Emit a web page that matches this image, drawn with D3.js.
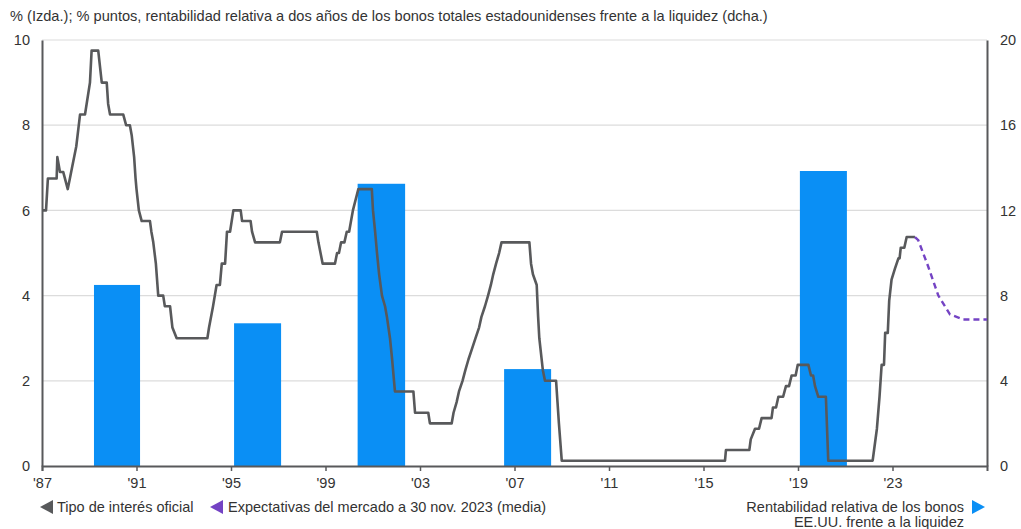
<!DOCTYPE html>
<html lang="es">
<head>
<meta charset="utf-8">
<script src="https://cdn.jsdelivr.net/npm/d3@7"></script>
<style>
  html, body { margin: 0; padding: 0; background: #fff; }
  svg { display: block; font-family: "Liberation Sans", Arial, sans-serif; }
</style>
</head>
<body>
<svg id="chart" width="1021" height="529"></svg>
<script>
// Fed funds target rate (%), left axis: [decimal year, value]
const policyRate = [
  [1987.0, 6.0], [1987.17, 6.0], [1987.25, 6.75], [1987.62, 6.75], [1987.65, 7.25],
  [1987.76, 6.9], [1987.9, 6.9], [1988.09, 6.5], [1988.18, 6.75], [1988.27, 7.0],
  [1988.45, 7.5], [1988.61, 8.25], [1988.82, 8.25], [1988.96, 8.75], [1989.03, 9.0],
  [1989.1, 9.75], [1989.38, 9.75], [1989.53, 9.0], [1989.74, 9.0], [1989.8, 8.5],
  [1989.88, 8.25], [1990.44, 8.25], [1990.56, 8.0], [1990.72, 8.0], [1990.8, 7.75],
  [1990.9, 7.25], [1990.96, 6.75], [1991.0, 6.5], [1991.1, 6.0], [1991.22, 5.75],
  [1991.57, 5.75], [1991.63, 5.5], [1991.71, 5.25], [1991.82, 4.75], [1991.92, 4.0],
  [1992.13, 4.0], [1992.2, 3.75], [1992.42, 3.75], [1992.52, 3.25], [1992.7, 3.0],
  [1994.0, 3.0], [1994.07, 3.25], [1994.24, 3.75], [1994.39, 4.25], [1994.53, 4.25],
  [1994.61, 4.75], [1994.75, 4.75], [1994.83, 5.5], [1994.96, 5.5], [1995.1, 6.0],
  [1995.41, 6.0], [1995.47, 5.75], [1995.83, 5.75], [1995.89, 5.5], [1996.02, 5.25],
  [1997.07, 5.25], [1997.16, 5.5], [1998.63, 5.5], [1998.7, 5.25], [1998.79, 5.0],
  [1998.88, 4.75], [1999.4, 4.75], [1999.49, 5.0], [1999.57, 5.0], [1999.66, 5.25],
  [1999.8, 5.25], [1999.9, 5.5], [2000.0, 5.5], [2000.08, 5.75], [2000.16, 6.0],
  [2000.39, 6.5], [2000.96, 6.5], [2001.01, 6.0], [2001.1, 5.5], [2001.18, 5.0],
  [2001.27, 4.5], [2001.39, 4.0], [2001.52, 3.75], [2001.6, 3.5], [2001.73, 3.0],
  [2001.82, 2.5], [2001.9, 2.0], [2001.94, 1.75], [2002.72, 1.75], [2002.79, 1.25],
  [2003.35, 1.25], [2003.42, 1.0], [2004.34, 1.0], [2004.42, 1.25], [2004.55, 1.5],
  [2004.65, 1.75], [2004.8, 2.0], [2004.92, 2.25], [2005.05, 2.5], [2005.2, 2.75],
  [2005.35, 3.0], [2005.5, 3.25], [2005.6, 3.5], [2005.75, 3.75], [2005.88, 4.0],
  [2006.0, 4.25], [2006.1, 4.5], [2006.22, 4.75], [2006.35, 5.0], [2006.45, 5.25],
  [2007.63, 5.25], [2007.7, 4.75], [2007.78, 4.5], [2007.94, 4.25], [2008.0, 3.5],
  [2008.05, 3.0], [2008.2, 2.25], [2008.29, 2.0], [2008.76, 2.0], [2008.82, 1.5],
  [2008.88, 1.0], [2009.0, 0.125], [2015.91, 0.125], [2015.95, 0.375], [2016.94, 0.375],
  [2017.0, 0.625], [2017.18, 0.875], [2017.35, 0.875], [2017.46, 1.125], [2017.88, 1.125],
  [2017.94, 1.375], [2018.07, 1.375], [2018.17, 1.625], [2018.37, 1.625], [2018.49, 1.875],
  [2018.62, 1.875], [2018.73, 2.125], [2018.9, 2.125], [2018.99, 2.375], [2019.44, 2.375],
  [2019.55, 2.125], [2019.64, 2.125], [2019.72, 1.875], [2019.86, 1.625], [2020.18, 1.625],
  [2020.28, 0.125], [2022.16, 0.125], [2022.22, 0.375], [2022.34, 0.875], [2022.45, 1.625],
  [2022.54, 2.375], [2022.64, 2.375], [2022.69, 3.125], [2022.8, 3.125], [2022.86, 3.875],
  [2022.96, 4.375], [2023.1, 4.625], [2023.25, 4.875], [2023.3, 4.875], [2023.35, 5.125],
  [2023.5, 5.125], [2023.6, 5.375], [2023.95, 5.375]
];

// Market-implied path as of 30 Nov 2023 (%), left axis
const marketPath = [
  [2023.95, 5.375], [2024.09, 5.3], [2024.5, 4.7], [2024.94, 4.0],
  [2025.43, 3.56], [2026.0, 3.44], [2027.0, 3.44]
];

// Two-year relative return of US aggregate bonds vs cash (pp), right axis
const barStart = [1989.2, 1995.13, 2000.36, 2006.56, 2019.08];
const barEnd   = [1991.15, 1997.12, 2002.37, 2008.55, 2021.07];
const barValue = [8.5, 6.7, 13.25, 4.55, 13.85];

const xTickYears  = [1987, 1991, 1995, 1999, 2003, 2007, 2011, 2015, 2019, 2023];
const leftTicks   = [0, 2, 4, 6, 8, 10];
const rightTicks  = [0, 4, 8, 12, 16, 20];

const titleText = "% (Izda.); % puntos, rentabilidad relativa a dos años de los bonos totales estadounidenses frente a la liquidez (dcha.)";
const legendRate = "Tipo de interés oficial";
const legendPath = "Expectativas del mercado a 30 nov. 2023 (media)";
const legendBars = ["Rentabilidad relativa de los bonos", "EE.UU. frente a la liquidez"];

const colRate = "#58595b";
const colPath = "#7443c4";
const colBar  = "#0a8ff5";
const colText = "#333333";
const fontSize = 14.5;

const svg = d3.select("#chart");
const plot = { left: 42, right: 987, top: 40, bottom: 466 };

const x = d3.scaleLinear().domain([1987, 2027]).range([plot.left, plot.right]);
const yL = d3.scaleLinear().domain([0, 10]).range([plot.bottom, plot.top]);
const yR = d3.scaleLinear().domain([0, 20]).range([plot.bottom, plot.top]);

// title
svg.append("text")
  .attr("x", 10).attr("y", 21)
  .attr("font-size", 14.6).attr("fill", colText)
  .text(titleText);

// horizontal gridlines
svg.append("g").selectAll("line")
  .data(leftTicks.filter(d => d > 0))
  .join("line")
  .attr("x1", plot.left).attr("x2", plot.right)
  .attr("y1", d => yL(d)).attr("y2", d => yL(d))
  .attr("stroke", "#dcdcdc").attr("stroke-width", 1.2);

// bars
svg.append("g").selectAll("rect")
  .data(barValue.map((v, i) => ({ s: barStart[i], e: barEnd[i], v })))
  .join("rect")
  .attr("x", d => x(d.s))
  .attr("width", d => x(d.e) - x(d.s))
  .attr("y", d => yR(d.v))
  .attr("height", d => yR(0) - yR(d.v))
  .attr("fill", colBar);

function styleAxisText(g) {
  g.selectAll("text").attr("font-size", fontSize).attr("fill", colText)
    .attr("font-family", "Liberation Sans, Arial, sans-serif");
}

// left axis
const axL = svg.append("g")
  .attr("transform", `translate(${plot.left},0)`)
  .call(d3.axisLeft(yL).tickValues(leftTicks).tickSize(0).tickPadding(12).tickFormat(d3.format("d")));
axL.select(".domain").attr("stroke", colRate).attr("stroke-width", 2);
styleAxisText(axL);

// right axis
const axR = svg.append("g")
  .attr("transform", `translate(${plot.right},0)`)
  .call(d3.axisRight(yR).tickValues(rightTicks).tickSize(0).tickPadding(13).tickFormat(d3.format("d")));
axR.select(".domain").attr("stroke", colRate).attr("stroke-width", 2);
styleAxisText(axR);

// bottom axis
const axB = svg.append("g")
  .attr("transform", `translate(0,${plot.bottom})`)
  .call(d3.axisBottom(x).tickValues(xTickYears).tickSize(5).tickPadding(7)
    .tickFormat(d => "'" + String(d).slice(2)));
axB.select(".domain").attr("stroke", colRate).attr("stroke-width", 2);
axB.selectAll(".tick line").attr("stroke", colRate).attr("stroke-width", 1.5);
styleAxisText(axB);

// policy rate line
const line = d3.line().x(d => x(d[0])).y(d => yL(d[1]));
svg.append("path")
  .datum(policyRate)
  .attr("d", line)
  .attr("fill", "none")
  .attr("stroke", colRate)
  .attr("stroke-width", 2.6)
  .attr("stroke-linejoin", "round");

// market expectations
svg.append("path")
  .datum(marketPath)
  .attr("d", line)
  .attr("fill", "none")
  .attr("stroke", colPath)
  .attr("stroke-width", 2.4)
  .attr("stroke-dasharray", "6,4");

// legend
const lg = svg.append("g").attr("font-size", fontSize).attr("fill", colText);
const ly = 512;
lg.append("path").attr("d", `M40,${ly - 5} L53,${ly - 12} L53,${ly + 2} Z`).attr("fill", colRate);
lg.append("text").attr("x", 57).attr("y", ly).text(legendRate);
lg.append("path").attr("d", `M210,${ly - 5} L223,${ly - 12} L223,${ly + 2} Z`).attr("fill", colPath);
lg.append("text").attr("x", 228).attr("y", ly).text(legendPath);
lg.append("path").attr("d", `M985,${ly - 5} L972,${ly - 12} L972,${ly + 2} Z`).attr("fill", colBar);
lg.append("text").attr("x", 964).attr("y", ly).attr("text-anchor", "end").text(legendBars[0]);
lg.append("text").attr("x", 964).attr("y", ly + 15).attr("text-anchor", "end").text(legendBars[1]);
</script>
</body>
</html>
